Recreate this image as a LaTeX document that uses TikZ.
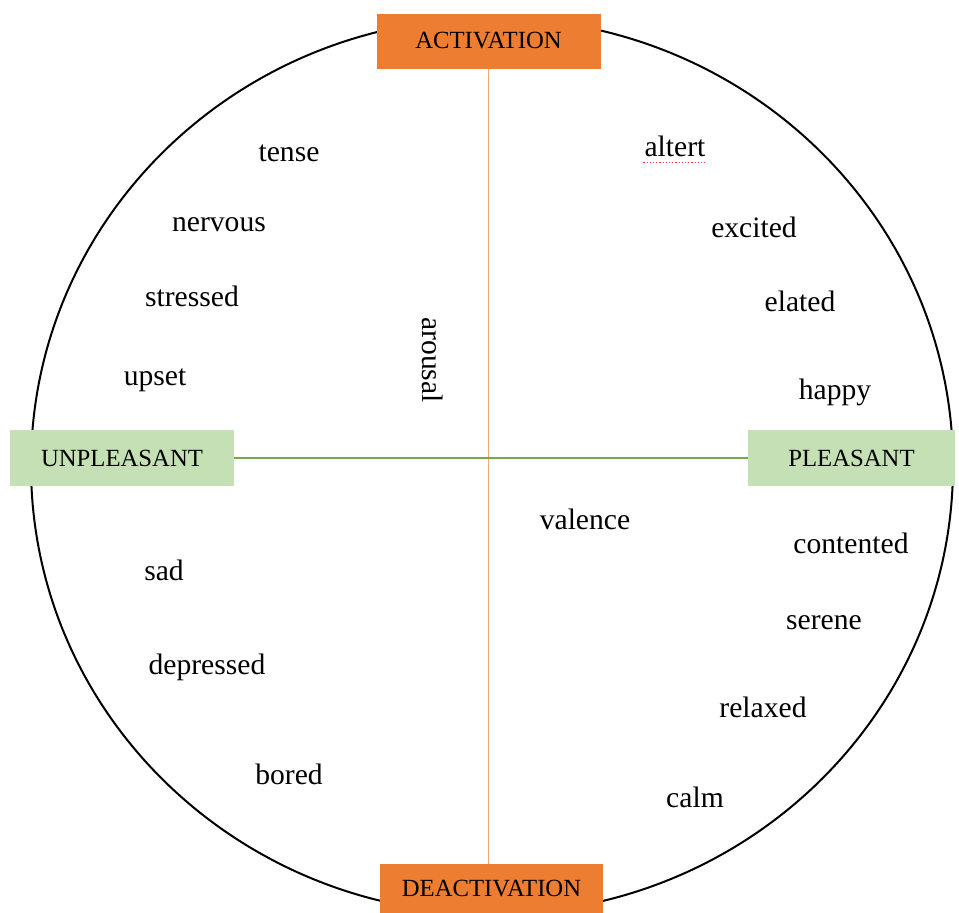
\documentclass[tikz,border=0pt]{standalone}
\usepackage{fontspec}
\setmainfont{Liberation Serif}
\definecolor{boxorange}{HTML}{ED7D31}
\definecolor{boxgreen}{HTML}{C5E0B4}
\definecolor{linegreen}{HTML}{70AD47}
\definecolor{lineorange}{HTML}{F4A872}
\begin{document}
\begin{tikzpicture}[x=1pt,y=-1pt,
  pole/.style={draw=none,inner sep=0pt,font=\fontsize{24.7}{26}\selectfont,text=black},
  actbox/.style={pole,fill=boxorange},
  valbox/.style={pole,fill=boxgreen},
  word/.style={inner sep=0pt,font=\fontsize{29.6}{31}\selectfont,text=black}]
\useasboundingbox (0,0) rectangle (959,913);
\fill[white] (0,0) rectangle (959,913);
\draw[line width=2pt] (492,466) ellipse [x radius=461, y radius=448];
% pole boxes
\node[actbox, minimum width=224, minimum height=55] (act) at (488.5,41) {ACTIVATION};
\node[actbox, minimum width=223, minimum height=50] (deact) at (491.5,889) {DEACTIVATION};
\node[valbox, minimum width=224, minimum height=56] (unp) at (122,458) {UNPLEASANT};
\node[valbox, minimum width=207, minimum height=56] (pl) at (851.5,458) {PLEASANT};
% axes
\draw[lineorange, line width=1.4pt] (act.south) -- (act.south |- deact.north);
\draw[linegreen, line width=1.4pt] (unp.east) -- (pl.west);
% words
\node[word] (tense) at (289,153) {tense};
\node[word] (nervous) at (219,225) {nervous};
\node[word] (stressed) at (192,296) {stressed};
\node[word] (upset) at (155,380) {upset};
\node[word] (sad) at (164,570) {sad};
\node[word] (depressed) at (207,667) {depressed};
\node[word] (bored) at (289,774) {bored};
\node[word] (altert) at (675,146) {altert};
\node[word] (excited) at (754,227) {excited};
\node[word] (elated) at (800,301) {elated};
\node[word] (happy) at (835,392) {happy};
\node[word] (contented) at (851,543) {contented};
\node[word] (serene) at (824,623) {serene};
\node[word] (relaxed) at (763,707) {relaxed};
\node[word] (calm) at (695,797) {calm};
\node[word] (valence) at (585,519) {valence};
\node[word, rotate=-90] (arousal) at (433,360) {arousal};
\draw[red!80, line width=1.2pt, dotted] ([xshift=-1pt,yshift=-6pt]altert.south west) -- ([xshift=1pt,yshift=-6pt]altert.south east);
\end{tikzpicture}
\end{document}
